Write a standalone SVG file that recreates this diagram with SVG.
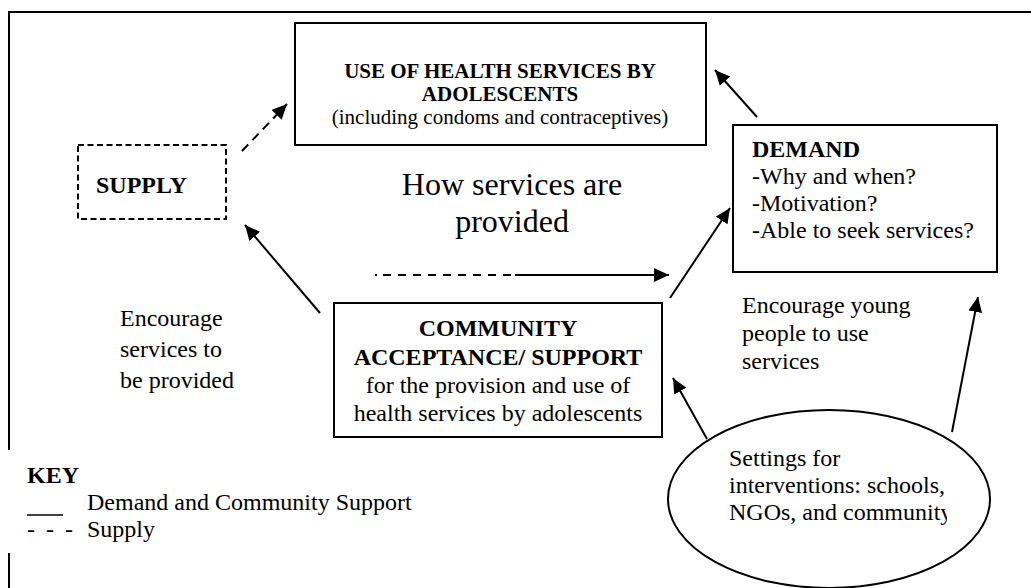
<svg xmlns="http://www.w3.org/2000/svg" width="1031" height="588" viewBox="0 0 1031 588">
<style>
  text { font-family: "Liberation Serif", "Times New Roman", serif; fill: #000; }
  .t24 { font-size: 24px; }
  .t21 { font-size: 21px; }
  .b { font-weight: bold; }
  .box { fill: #fff; stroke: #000; stroke-width: 2; }
  .dbox { fill: none; stroke: #000; stroke-width: 2; stroke-dasharray: 6 3.5; }
  .arr { stroke: #000; stroke-width: 2; fill: none; marker-end: url(#ah); }
  .darr { stroke: #000; stroke-width: 2; fill: none; stroke-dasharray: 9 6; marker-end: url(#ah); }
</style>
<defs>
  <marker id="ah" markerUnits="userSpaceOnUse" markerWidth="16" markerHeight="15" refX="15" refY="7" orient="auto">
    <path d="M0,0 L15,7 L0,14 z" fill="#000"/>
  </marker>
  <clipPath id="ellclip"><rect x="660" y="400" width="287" height="188"/></clipPath>
</defs>
<rect width="1031" height="588" fill="#fff"/>
<g id="frame" stroke="#000" stroke-width="2" fill="none">
  <path d="M9,450 L9,12 L1040,12"/>
  <path d="M9,553 L9,600"/>
</g>
<g id="connectors">
  <line class="darr" x1="242" y1="151" x2="287" y2="104"/>
  <line class="arr" x1="757" y1="117" x2="715" y2="70"/>
  <line class="arr" x1="670" y1="298" x2="730" y2="208"/>
  <line class="arr" x1="320" y1="313" x2="245" y2="225"/>
  <line x1="375" y1="275" x2="377" y2="275" stroke="#000" stroke-width="2"/>
  <line x1="383" y1="275" x2="515" y2="275" stroke="#000" stroke-width="2" stroke-dasharray="8 7"/>
  <line class="arr" x1="515" y1="275" x2="669" y2="275"/>
  <line class="arr" x1="707" y1="439" x2="673" y2="378"/>
  <line class="arr" x1="952" y1="432" x2="978" y2="297"/>
</g>
<g id="use-services">
  <rect class="box" x="295" y="23" width="411" height="122"/>
  <text class="t21 b" x="500" y="78" text-anchor="middle">USE OF HEALTH SERVICES BY</text>
  <text class="t21 b" x="500" y="101" text-anchor="middle">ADOLESCENTS</text>
  <text class="t21" x="500" y="124" text-anchor="middle">(including condoms and contraceptives)</text>
</g>
<g id="supply">
  <rect class="dbox" x="78" y="145" width="148" height="74"/>
  <text class="t24 b" x="96" y="193">SUPPLY</text>
</g>
<g id="how-label">
  <text x="512" y="195" text-anchor="middle" font-size="32">How services are</text>
  <text x="512" y="232" text-anchor="middle" font-size="32">provided</text>
</g>
<g id="demand">
  <rect class="box" x="733" y="125" width="264" height="147"/>
  <text class="t24 b" x="752" y="157">DEMAND</text>
  <text class="t24" x="752" y="184">-Why and when?</text>
  <text class="t24" x="752" y="211">-Motivation?</text>
  <text class="t24" x="752" y="238">-Able to seek services?</text>
</g>
<g id="encourage-services">
  <text class="t24" x="120" y="326">Encourage</text>
  <text class="t24" x="120" y="357">services to</text>
  <text class="t24" x="120" y="388">be provided</text>
</g>
<g id="community">
  <rect class="box" x="334" y="303" width="328" height="134"/>
  <text class="t24 b" x="498" y="336" text-anchor="middle">COMMUNITY</text>
  <text class="t24 b" x="498" y="365" text-anchor="middle">ACCEPTANCE/ SUPPORT</text>
  <text class="t24" x="498" y="393" text-anchor="middle">for the provision and use of</text>
  <text class="t24" x="498" y="421" text-anchor="middle">health services by adolescents</text>
</g>
<g id="encourage-young">
  <text class="t24" x="742" y="313">Encourage young</text>
  <text class="t24" x="742" y="341">people to use</text>
  <text class="t24" x="742" y="369">services</text>
</g>
<g id="settings">
  <ellipse cx="829" cy="499" rx="161" ry="89" fill="#fff" stroke="#000" stroke-width="2"/>
  <g clip-path="url(#ellclip)">
    <text class="t24" x="729" y="466">Settings for</text>
    <text class="t24" x="729" y="493">interventions: schools,</text>
    <text class="t24" x="729" y="520">NGOs, and community</text>
  </g>
</g>
<g id="key">
  <text class="t24 b" x="27" y="483">KEY</text>
  <line x1="27" y1="515" x2="63" y2="515" stroke="#000" stroke-width="1.5"/>
  <text class="t24" x="87" y="510">Demand and Community Support</text>
  <text class="t24" x="27" y="537">-</text>
  <text class="t24" x="46" y="537">-</text>
  <text class="t24" x="65" y="537">-</text>
  <text class="t24" x="87" y="537">Supply</text>
</g>
</svg>
